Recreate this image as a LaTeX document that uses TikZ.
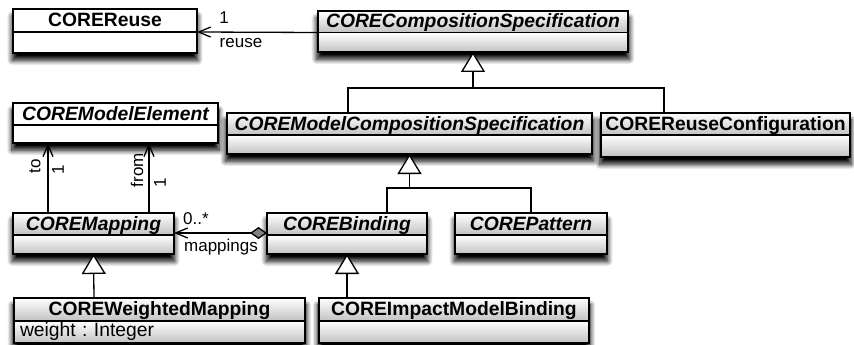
\documentclass[tikz,border=0pt]{standalone}
\usepackage{fontspec}
\setmainfont{Liberation Sans}
\usetikzlibrary{arrows.meta, shadows.blur}

% A UML class: name, face styles, left, top, right, divider, bottom, title, attributes
\newcommand\umlclass[9]{%
  \path[boxshadow] (#3,#4) rectangle (#5,#7);
  \node[cell, #2, minimum width={(#5-#3)*1pt}, minimum height={(#6-#4)*1pt},
        anchor=north west] (#1-t) at (#3,#4) {#8};
  \node[cell, #2, attr, minimum width={(#5-#3)*1pt}, minimum height={(#7-#6)*1pt},
        text width={(#5-#3)*1pt-12pt}, anchor=north west] (#1-b) at (#1-t.south west) {#9};
}

\begin{document}
\frenchspacing
\begin{tikzpicture}[x=1pt, y=-1pt,
  boxshadow/.style={fill=white, blur shadow={shadow xshift=0pt, shadow yshift=-7pt,
                    shadow scale=1.01, shadow blur radius=5pt, shadow blur steps=10,
                    shadow opacity=100}},
  cell/.style={draw, line width=1.3pt, inner sep=0pt, outer sep=0pt,
               font=\fontsize{19.3}{21}\selectfont\bfseries,
               text height=13.8pt, text depth=1.5pt},
  shadedbox/.style={top color=white, bottom color=black!24},
  plainbox/.style={fill=white},
  abstract/.style={font=\fontsize{19.3}{21}\selectfont\bfseries\itshape},
  attr/.style={font=\fontsize{19.3}{21}\selectfont\mdseries\upshape, inner xsep=6pt,
               align=left, text height=13.5pt, text depth=4pt},
  link/.style={line width=1.3pt},
  gen/.style={link, -{Triangle[open, length=20pt, width=24pt, fill=white]}},
  nav/.style={link, -{Straight Barb[length=12pt, width=10pt]}},
  lbl/.style={font=\fontsize{17}{19}\selectfont, inner sep=0pt},
]
\useasboundingbox (0,0) rectangle (854,345);

% classes
\umlclass{reuse}{plainbox}{13}{9}{197}{32}{53}{COREReuse}{}
\umlclass{compspec}{shadedbox,abstract}{318}{11}{628}{32.5}{52}{CORECompositionSpecification}{}
\umlclass{modelelem}{plainbox,abstract}{13}{103}{218}{125}{143}{COREModelElement}{}
\umlclass{mcs}{shadedbox,abstract}{227}{113}{592}{135}{154}{COREModelCompositionSpecification}{}
\umlclass{reuseconf}{shadedbox}{601}{113}{850}{135}{157}{COREReuseConfiguration}{}
\umlclass{mapping}{shadedbox,abstract}{13}{213}{174}{235}{254}{COREMapping}{}
\umlclass{binding}{shadedbox,abstract}{267}{213}{427}{235}{254}{COREBinding}{}
\umlclass{pattern}{shadedbox,abstract}{455}{213}{607}{235}{254}{COREPattern}{}
\umlclass{weighted}{shadedbox}{14}{298}{305}{321}{343}{COREWeightedMapping}{weight : Integer}
\umlclass{impact}{shadedbox}{319}{298}{589}{321}{343}{COREImpactModelBinding}{}

% reuse association
\draw[nav] (compspec-t.south west) -- (reuse-t.south east);
\node[lbl] (reuse-mult) at (224,18) {1};
\node[lbl, anchor=base] (reuse-role) at (241,48) {reuse};

% generalisations into CORECompositionSpecification
\coordinate (j1) at (473,88);
\draw[gen] (j1) -- (compspec-b.south);
\draw[link] (348,0 |- mcs-t.north) |- (j1) -| (664,0 |- reuseconf-t.north);

% generalisations into COREModelCompositionSpecification
\coordinate (j2) at (409.5,188);
\draw[gen] (j2) -- (mcs-b.south);
\draw[link] (387,0 |- binding-t.north) |- (j2) -| (pattern-t.north);

% generalisations of the bottom row
\draw[gen] (94,0 |- weighted-t.north) -- (mapping-b.south);
\draw[gen] (347,0 |- impact-t.north) -- (binding-b.south);

% to / from associations
\draw[nav] (48,0 |- mapping-t.north) -- (48,0 |- modelelem-b.south);
\draw[nav] (149,0 |- mapping-t.north) -- (149,0 |- modelelem-b.south);
\node[lbl, rotate=90] (to-role) at (35,166) {to};
\node[lbl, rotate=90] (to-mult) at (58,170) {1};
\node[lbl, rotate=90] (from-role) at (137,170) {from};
\node[lbl, rotate=90] (from-mult) at (160,183) {1};

% mappings composition
\draw[link, {Diamond[length=17pt, width=12pt]}-{Straight Barb[length=12pt, width=10pt]}]
  ([yshift=2pt]binding-t.south west) -- ([yshift=2pt]mapping-t.south east);
\node[lbl] (map-mult) at (196,219) {0..*};
\node[lbl] (map-role) at (221,247) {mappings};
\end{tikzpicture}
\end{document}
